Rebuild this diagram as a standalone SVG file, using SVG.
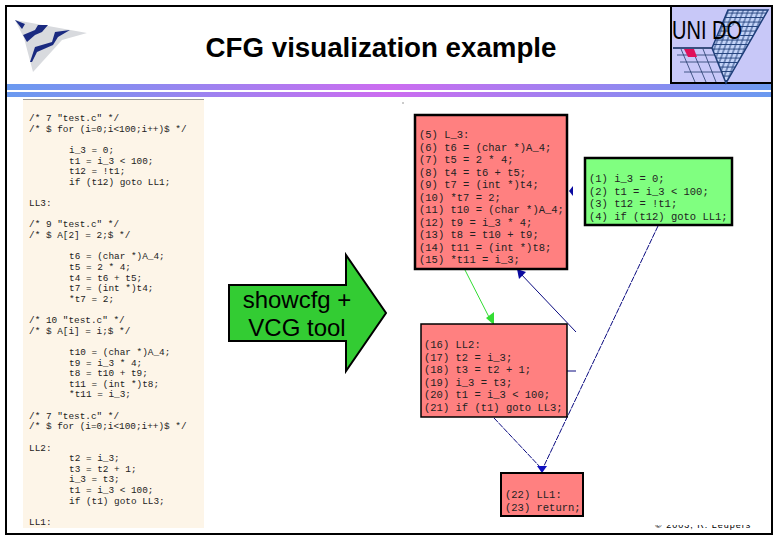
<svg xmlns="http://www.w3.org/2000/svg" width="780" height="540" viewBox="0 0 780 540">
<style>
.code{font-family:"Liberation Mono",monospace;font-size:9.4px;fill:#222;white-space:pre}
.box{font-family:"Liberation Mono",monospace;font-size:10.5px;fill:#222;white-space:pre}
.blk{stroke:#000;stroke-width:2.5}
.red{fill:#ff8080}
.edge{fill:none;stroke:#0a0a80;stroke-width:1}
.grid{fill:none;stroke:#223a6a;stroke-width:.8}
</style>
<defs>
<linearGradient id="band" x1="0" x2="1" y1="0" y2="0"><stop offset="0" stop-color="#6a9af0"/><stop offset=".5" stop-color="#cc6cf0"/><stop offset="1" stop-color="#6a9af0"/></linearGradient>
<pattern id="hatch" width="5" height="4.500" patternUnits="userSpaceOnUse" patternTransform="skewX(-20)"><rect width="5" height="4.500" fill="#c4d4f8"/><path d="M0 4H5M2 0V4.500" stroke="#1f3f7a" stroke-width="1"/></pattern>
</defs>
<rect width="780" height="540" fill="#fff"/>
<rect x="6" y="84" width="767" height="6" fill="url(#band)"/>
<rect x="6" y="92" width="767" height="5" fill="url(#band)"/>
<g id="logo-left">
<path d="M15 20L87 33L62 40L33 72L24 38Z" fill="#d8dade"/>
<path d="M15 20L25 24L22 29Z" fill="#1a2a80"/>
<path d="M23 35L35 30L38 25L48 25L42 32L35 35L27 42Z" fill="#1a2a80"/>
<path d="M30 62L35 47L52 42L55 32L70 30L58 37L53 45L37 52L32 62Z" fill="#1a2a80"/>
</g>
<text id="title" x="381" y="57" text-anchor="middle" font-family="Liberation Sans,Arial,sans-serif" font-size="27.700" font-weight="700">CFG visualization example</text>
<g id="logo-unido">
<rect x="671" y="6" width="101" height="77" fill="#c8c8f8" stroke="#000" stroke-width="2"/>
<path d="M728 10H768L726 83L712 48Z" fill="url(#hatch)" stroke="#1f3f7a" stroke-width="1.500"/>
<path class="grid" d="M673 48H712M677 55H715M680 62H719M684 72H723M681 49L695 82M692 49L706 82M703 49L716 82"/>
<path d="M673 48H712" stroke="#223a6a" stroke-width="1.500"/>
<path d="M684 49H694L697 57H688Z" fill="#e0105a"/>
<ellipse cx="735" cy="32" rx="6" ry="7" fill="#c8c8f8"/>
<text x="672" y="39" font-family="Liberation Sans,Arial,sans-serif" font-size="25" textLength="70" lengthAdjust="spacingAndGlyphs">UNI DO</text>
</g>
<g id="source-code">
<rect x="23" y="100" width="181" height="428" fill="#fdf5e8"/>
<path d="M23 99.500H204" stroke="#999" stroke-width="1"/>
<text class="code" x="29" y="121">/* 7 "test.c" */</text>
<text class="code" x="29" y="131.600">/* $ for (i=0;i&lt;100;i++)$ */</text>
<text class="code" x="69" y="152.900">i_3 = 0;</text>
<text class="code" x="69" y="163.500">t1 = i_3 &lt; 100;</text>
<text class="code" x="69" y="174.200">t12 = !t1;</text>
<text class="code" x="69" y="184.800">if (t12) goto LL1;</text>
<text class="code" x="29" y="206">LL3:</text>
<text class="code" x="29" y="227.300">/* 9 "test.c" */</text>
<text class="code" x="29" y="237.900">/* $ A[2] = 2;$ */</text>
<text class="code" x="69" y="259.200">t6 = (char *)A_4;</text>
<text class="code" x="69" y="269.800">t5 = 2 * 4;</text>
<text class="code" x="69" y="280.500">t4 = t6 + t5;</text>
<text class="code" x="69" y="291.100">t7 = (int *)t4;</text>
<text class="code" x="69" y="301.700">*t7 = 2;</text>
<text class="code" x="29" y="323">/* 10 "test.c" */</text>
<text class="code" x="29" y="333.600">/* $ A[i] = i;$ */</text>
<text class="code" x="69" y="354.900">t10 = (char *)A_4;</text>
<text class="code" x="69" y="365.500">t9 = i_3 * 4;</text>
<text class="code" x="69" y="376.100">t8 = t10 + t9;</text>
<text class="code" x="69" y="386.800">t11 = (int *)t8;</text>
<text class="code" x="69" y="397.400">*t11 = i_3;</text>
<text class="code" x="29" y="418.600">/* 7 "test.c" */</text>
<text class="code" x="29" y="429.300">/* $ for (i=0;i&lt;100;i++)$ */</text>
<text class="code" x="29" y="450.500">LL2:</text>
<text class="code" x="69" y="461.200">t2 = i_3;</text>
<text class="code" x="69" y="471.800">t3 = t2 + 1;</text>
<text class="code" x="69" y="482.400">i_3 = t3;</text>
<text class="code" x="69" y="493.100">t1 = i_3 &lt; 100;</text>
<text class="code" x="69" y="503.700">if (t1) goto LL3;</text>
<text class="code" x="29" y="525">LL1:</text>
</g>
<g id="arrow-showcfg">
<path d="M229 285H346V255L386 313L346 371V341H229Z" fill="#33cc33" stroke="#000" stroke-width="2"/>
<text x="297" y="308" text-anchor="middle" font-family="Liberation Sans,Arial,sans-serif" font-size="24">showcfg +</text>
<text x="297" y="336" text-anchor="middle" font-family="Liberation Sans,Arial,sans-serif" font-size="24">VCG tool</text>
</g>
<path id="speck" d="M403 102.500V103.500" stroke="#333" stroke-width="1"/>
<g id="connectors">
<path d="M465 270L491 321" fill="none" stroke="#33dd33" stroke-width="1"/>
<path d="M494 325L486 318L494 312Z" fill="#33dd33"/>
<path class="edge" d="M658 226L543 468" stroke-dasharray="6 1"/>
<path class="edge" d="M576 332L520 273"/>
<path d="M517 269L526 272L519 279Z" fill="#0a0aa0"/>
<path class="edge" d="M567 371H576"/>
<path class="edge" d="M494 418L541 468" stroke-dasharray="6 1"/>
<path d="M542 473L537 466H547Z" fill="#1010c0"/>
<path d="M569 191L573 186V196Z" fill="#0a0aa0"/>
</g>
<g id="node-b2">
<rect class="red blk" x="415" y="115" width="152" height="154"/>
<text class="box" x="419" y="138">(5) L_3:</text>
<text class="box" x="419" y="150.500">(6) t6 = (char *)A_4;</text>
<text class="box" x="419" y="163">(7) t5 = 2 * 4;</text>
<text class="box" x="419" y="175.500">(8) t4 = t6 + t5;</text>
<text class="box" x="419" y="188">(9) t7 = (int *)t4;</text>
<text class="box" x="419" y="200.500">(10) *t7 = 2;</text>
<text class="box" x="419" y="213">(11) t10 = (char *)A_4;</text>
<text class="box" x="419" y="225.500">(12) t9 = i_3 * 4;</text>
<text class="box" x="419" y="238">(13) t8 = t10 + t9;</text>
<text class="box" x="419" y="250.500">(14) t11 = (int *)t8;</text>
<text class="box" x="419" y="263">(15) *t11 = i_3;</text>
</g>
<g id="node-b1">
<rect x="585" y="158" width="147" height="67" fill="#80ff80" stroke="#000" stroke-width="2.500"/>
<text class="box" x="589" y="182">(1) i_3 = 0;</text>
<text class="box" x="589" y="194.500">(2) t1 = i_3 &lt; 100;</text>
<text class="box" x="589" y="207">(3) t12 = !t1;</text>
<text class="box" x="589" y="219.500">(4) if (t12) goto LL1;</text>
</g>
<g id="node-b3">
<rect class="red" x="421" y="324" width="146" height="93" stroke="#000" stroke-width="1.500"/>
<text class="box" x="424" y="348">(16) LL2:</text>
<text class="box" x="424" y="360.500">(17) t2 = i_3;</text>
<text class="box" x="424" y="373">(18) t3 = t2 + 1;</text>
<text class="box" x="424" y="385.500">(19) i_3 = t3;</text>
<text class="box" x="424" y="398">(20) t1 = i_3 &lt; 100;</text>
<text class="box" x="424" y="410.500">(21) if (t1) goto LL3;</text>
</g>
<g id="node-b4">
<rect class="red" x="501" y="473" width="82" height="43" stroke="#000" stroke-width="2"/>
<text class="box" x="505" y="498">(22) LL1:</text>
<text class="box" x="505" y="510.500">(23) return;</text>
</g>
<text id="footer" x="655" y="528" font-family="Liberation Sans,Arial,sans-serif" font-size="9" letter-spacing="1">© 2003, R. Leupers</text>
<rect x="650" y="517" width="115" height="8" fill="#fff"/>
<rect id="frame" x="6" y="6" width="766" height="528" fill="none" stroke="#000" stroke-width="2"/>
</svg>
